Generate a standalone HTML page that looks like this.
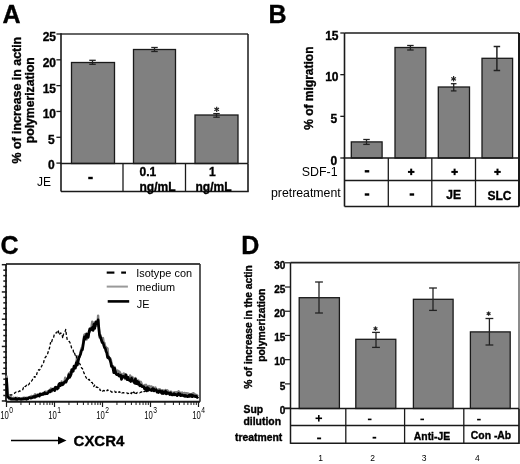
<!DOCTYPE html>
<html><head><meta charset="utf-8"><style>
html,body{margin:0;padding:0;background:#fff;}
svg{display:block;will-change:transform;}
</style></head><body>
<svg width="520" height="464" viewBox="0 0 520 464">
<rect width="520" height="464" fill="#fff"/>
<text x="2.5" y="23" font-size="25" font-family="Liberation Sans, sans-serif" font-weight="bold" stroke="#000" stroke-width="0.35" text-anchor="start" >A</text>
<rect x="71.5" y="62.5" width="43.0" height="101.0" fill="#808080" stroke="#1a1a1a" stroke-width="1.3"/>
<rect x="133.5" y="49.5" width="42.0" height="114.0" fill="#808080" stroke="#1a1a1a" stroke-width="1.3"/>
<rect x="195" y="115" width="43" height="48.5" fill="#808080" stroke="#1a1a1a" stroke-width="1.3"/>
<line x1="92.5" y1="60.3" x2="92.5" y2="64.3" stroke="#222" stroke-width="1.3" />
<line x1="89.25" y1="60.3" x2="95.75" y2="60.3" stroke="#222" stroke-width="1.3" />
<line x1="89.25" y1="64.3" x2="95.75" y2="64.3" stroke="#222" stroke-width="1.3" />
<line x1="154.5" y1="47.5" x2="154.5" y2="51.5" stroke="#222" stroke-width="1.3" />
<line x1="151.25" y1="47.5" x2="157.75" y2="47.5" stroke="#222" stroke-width="1.3" />
<line x1="151.25" y1="51.5" x2="157.75" y2="51.5" stroke="#222" stroke-width="1.3" />
<line x1="216.5" y1="113.6" x2="216.5" y2="117.2" stroke="#222" stroke-width="1.3" />
<line x1="213.25" y1="113.6" x2="219.75" y2="113.6" stroke="#222" stroke-width="1.3" />
<line x1="213.25" y1="117.2" x2="219.75" y2="117.2" stroke="#222" stroke-width="1.3" />
<line x1="216.7" y1="106.7" x2="216.7" y2="112.1" stroke="#222" stroke-width="1.2" />
<line x1="214.36" y1="108.05" x2="219.04" y2="110.75" stroke="#222" stroke-width="1.2" />
<line x1="214.36" y1="110.75" x2="219.04" y2="108.05" stroke="#222" stroke-width="1.2" />
<line x1="61" y1="34" x2="248" y2="34" stroke="#333" stroke-width="1.5" />
<line x1="248" y1="34" x2="248" y2="163.5" stroke="#1a1a1a" stroke-width="1.5" />
<line x1="61" y1="33.3" x2="61" y2="191.5" stroke="#1a1a1a" stroke-width="1.6" />
<line x1="60.2" y1="163.5" x2="248" y2="163.5" stroke="#1a1a1a" stroke-width="1.6" />
<line x1="56.4" y1="163.1" x2="61" y2="163.1" stroke="#1a1a1a" stroke-width="1.3" />
<text x="54.6" y="169.2" font-size="12" font-family="Liberation Sans, sans-serif" font-weight="bold" stroke="#000" stroke-width="0.35" text-anchor="end" >0</text>
<line x1="56.4" y1="137.28" x2="61" y2="137.28" stroke="#1a1a1a" stroke-width="1.3" />
<text x="54.6" y="143.5" font-size="12" font-family="Liberation Sans, sans-serif" font-weight="bold" stroke="#000" stroke-width="0.35" text-anchor="end" >5</text>
<line x1="56.4" y1="111.46" x2="61" y2="111.46" stroke="#1a1a1a" stroke-width="1.3" />
<text x="56" y="118.2" font-size="12" font-family="Liberation Sans, sans-serif" font-weight="bold" stroke="#000" stroke-width="0.35" text-anchor="end" >10</text>
<line x1="56.4" y1="85.64" x2="61" y2="85.64" stroke="#1a1a1a" stroke-width="1.3" />
<text x="56" y="92.6" font-size="12" font-family="Liberation Sans, sans-serif" font-weight="bold" stroke="#000" stroke-width="0.35" text-anchor="end" >15</text>
<line x1="56.4" y1="59.81999999999999" x2="61" y2="59.81999999999999" stroke="#1a1a1a" stroke-width="1.3" />
<text x="56" y="66.9" font-size="12" font-family="Liberation Sans, sans-serif" font-weight="bold" stroke="#000" stroke-width="0.35" text-anchor="end" >20</text>
<line x1="56.4" y1="34.0" x2="61" y2="34.0" stroke="#1a1a1a" stroke-width="1.3" />
<text x="56" y="41.2" font-size="12" font-family="Liberation Sans, sans-serif" font-weight="bold" stroke="#000" stroke-width="0.35" text-anchor="end" >25</text>
<line x1="61" y1="191.5" x2="248.7" y2="191.5" stroke="#1a1a1a" stroke-width="1.6" />
<line x1="123" y1="163.5" x2="123" y2="191.5" stroke="#1a1a1a" stroke-width="1.3" />
<line x1="185.5" y1="163.5" x2="185.5" y2="191.5" stroke="#1a1a1a" stroke-width="1.3" />
<line x1="248" y1="163.5" x2="248" y2="191.5" stroke="#1a1a1a" stroke-width="1.6" />
<text x="37" y="186.3" font-size="12" font-family="Liberation Sans, sans-serif" text-anchor="start" >JE</text>
<rect x="88.25" y="176.80" width="4.5" height="2.4" fill="#000"/>
<text x="139.5" y="176.3" font-size="12" font-family="Liberation Sans, sans-serif" font-weight="bold" stroke="#000" stroke-width="0.35" text-anchor="start" >0.1</text>
<text x="139.5" y="190.5" font-size="12" font-family="Liberation Sans, sans-serif" font-weight="bold" stroke="#000" stroke-width="0.35" text-anchor="start" >ng/mL</text>
<text x="212.3" y="176.3" font-size="12" font-family="Liberation Sans, sans-serif" font-weight="bold" stroke="#000" stroke-width="0.35" text-anchor="middle" >1</text>
<text x="195.5" y="190.5" font-size="12" font-family="Liberation Sans, sans-serif" font-weight="bold" stroke="#000" stroke-width="0.35" text-anchor="start" >ng/mL</text>
<text transform="translate(20.7,100.2) rotate(-90)" font-size="12.4" font-family="Liberation Sans, sans-serif" font-weight="bold" stroke="#000" stroke-width="0.35" text-anchor="middle">% of increase in actin</text>
<text transform="translate(34,100.2) rotate(-90)" font-size="12.2" font-family="Liberation Sans, sans-serif" font-weight="bold" stroke="#000" stroke-width="0.35" text-anchor="middle">polymerization</text>
<text x="268.4" y="23" font-size="25" font-family="Liberation Sans, sans-serif" font-weight="bold" stroke="#000" stroke-width="0.35" text-anchor="start" >B</text>
<rect x="351.3" y="141.9" width="30.80000000000001" height="16.099999999999994" fill="#808080" stroke="#1a1a1a" stroke-width="1.3"/>
<rect x="395" y="47.5" width="30.80000000000001" height="110.5" fill="#808080" stroke="#1a1a1a" stroke-width="1.3"/>
<rect x="438.3" y="87" width="31.19999999999999" height="71" fill="#808080" stroke="#1a1a1a" stroke-width="1.3"/>
<rect x="482" y="58.3" width="30.600000000000023" height="99.7" fill="#808080" stroke="#1a1a1a" stroke-width="1.3"/>
<line x1="366.5" y1="139.5" x2="366.5" y2="144.4" stroke="#222" stroke-width="1.3" />
<line x1="363.25" y1="139.5" x2="369.75" y2="139.5" stroke="#222" stroke-width="1.3" />
<line x1="363.25" y1="144.4" x2="369.75" y2="144.4" stroke="#222" stroke-width="1.3" />
<line x1="410.4" y1="45.5" x2="410.4" y2="50" stroke="#222" stroke-width="1.3" />
<line x1="407.15" y1="45.5" x2="413.65" y2="45.5" stroke="#222" stroke-width="1.3" />
<line x1="407.15" y1="50" x2="413.65" y2="50" stroke="#222" stroke-width="1.3" />
<line x1="453.7" y1="83.7" x2="453.7" y2="90.9" stroke="#222" stroke-width="1.3" />
<line x1="450.9" y1="83.7" x2="456.5" y2="83.7" stroke="#222" stroke-width="1.3" />
<line x1="450.9" y1="90.9" x2="456.5" y2="90.9" stroke="#222" stroke-width="1.3" />
<line x1="453.6" y1="76.1" x2="453.6" y2="81.5" stroke="#222" stroke-width="1.2" />
<line x1="451.26" y1="77.45" x2="455.94" y2="80.15" stroke="#222" stroke-width="1.2" />
<line x1="451.26" y1="80.15" x2="455.94" y2="77.45" stroke="#222" stroke-width="1.2" />
<line x1="496.9" y1="46.5" x2="496.9" y2="70.5" stroke="#222" stroke-width="1.5" />
<line x1="493.65" y1="46.5" x2="500.15" y2="46.5" stroke="#222" stroke-width="1.5" />
<line x1="493.65" y1="70.5" x2="500.15" y2="70.5" stroke="#222" stroke-width="1.5" />
<line x1="344.5" y1="33" x2="519" y2="33" stroke="#555" stroke-width="1.8" />
<line x1="519" y1="33" x2="519" y2="206.5" stroke="#000" stroke-width="1.8" />
<line x1="344.5" y1="33" x2="344.5" y2="206.5" stroke="#1a1a1a" stroke-width="1.6" />
<line x1="343.5" y1="158" x2="519" y2="158" stroke="#1a1a1a" stroke-width="1.6" />
<line x1="340.3" y1="158.0" x2="344.5" y2="158.0" stroke="#1a1a1a" stroke-width="1.3" />
<text x="337.1" y="164.6" font-size="12" font-family="Liberation Sans, sans-serif" font-weight="bold" stroke="#000" stroke-width="0.35" text-anchor="end" >0</text>
<line x1="340.3" y1="116.33333333333333" x2="344.5" y2="116.33333333333333" stroke="#1a1a1a" stroke-width="1.3" />
<text x="337.1" y="122.93333333333332" font-size="12" font-family="Liberation Sans, sans-serif" font-weight="bold" stroke="#000" stroke-width="0.35" text-anchor="end" >5</text>
<line x1="340.3" y1="74.66666666666666" x2="344.5" y2="74.66666666666666" stroke="#1a1a1a" stroke-width="1.3" />
<text x="338.5" y="81.26666666666665" font-size="12" font-family="Liberation Sans, sans-serif" font-weight="bold" stroke="#000" stroke-width="0.35" text-anchor="end" >10</text>
<line x1="340.3" y1="32.999999999999986" x2="344.5" y2="32.999999999999986" stroke="#1a1a1a" stroke-width="1.3" />
<text x="338.5" y="39.59999999999999" font-size="12" font-family="Liberation Sans, sans-serif" font-weight="bold" stroke="#000" stroke-width="0.35" text-anchor="end" >15</text>
<line x1="344.5" y1="180.5" x2="519" y2="180.5" stroke="#1a1a1a" stroke-width="1.3" />
<line x1="344.5" y1="206.5" x2="519" y2="206.5" stroke="#1a1a1a" stroke-width="1.6" />
<line x1="388.3" y1="158" x2="388.3" y2="206.5" stroke="#1a1a1a" stroke-width="1.3" />
<line x1="431.8" y1="158" x2="431.8" y2="206.5" stroke="#1a1a1a" stroke-width="1.3" />
<line x1="475.5" y1="158" x2="475.5" y2="206.5" stroke="#1a1a1a" stroke-width="1.3" />
<text x="337.6" y="176.3" font-size="12.4" font-family="Liberation Sans, sans-serif" text-anchor="end" >SDF-1</text>
<text x="340.7" y="197.3" font-size="12.3" font-family="Liberation Sans, sans-serif" text-anchor="end" >pretreatment</text>
<rect x="364.75" y="170.10" width="4.5" height="2.4" fill="#000"/>
<rect x="364.75" y="193.30" width="4.5" height="2.4" fill="#000"/>
<rect x="407.95" y="170.90" width="6.5" height="2" fill="#000"/>
<rect x="410.20" y="168.65" width="2" height="6.5" fill="#000"/>
<rect x="451.35" y="170.90" width="6.5" height="2" fill="#000"/>
<rect x="453.60" y="168.65" width="2" height="6.5" fill="#000"/>
<rect x="494.25" y="170.90" width="6.5" height="2" fill="#000"/>
<rect x="496.50" y="168.65" width="2" height="6.5" fill="#000"/>
<rect x="409.65" y="193.30" width="4.5" height="2.4" fill="#000"/>
<text x="453.7" y="198.8" font-size="12" font-family="Liberation Sans, sans-serif" font-weight="bold" stroke="#000" stroke-width="0.35" text-anchor="middle" >JE</text>
<text x="499.4" y="200" font-size="12" font-family="Liberation Sans, sans-serif" font-weight="bold" stroke="#000" stroke-width="0.35" text-anchor="middle" >SLC</text>
<text transform="translate(313.2,88.2) rotate(-90)" font-size="12" font-family="Liberation Sans, sans-serif" font-weight="bold" stroke="#000" stroke-width="0.35" text-anchor="middle">% of migration</text>
<text x="0.5" y="254" font-size="25" font-family="Liberation Sans, sans-serif" font-weight="bold" stroke="#000" stroke-width="0.35" text-anchor="start" >C</text>
<line x1="6" y1="264" x2="200" y2="264" stroke="#444" stroke-width="1.8" />
<line x1="200" y1="264" x2="200" y2="401.8" stroke="#333" stroke-width="1.6" />
<line x1="6" y1="264" x2="6" y2="401.8" stroke="#1a1a1a" stroke-width="1.8" />
<line x1="6" y1="401.8" x2="200" y2="401.8" stroke="#1a1a1a" stroke-width="2" />
<line x1="1.8" y1="264.7" x2="7" y2="264.7" stroke="#1a1a1a" stroke-width="1.5" />
<line x1="3.3" y1="270.15" x2="7" y2="270.15" stroke="#1a1a1a" stroke-width="1.5" />
<line x1="3.3" y1="275.59999999999997" x2="7" y2="275.59999999999997" stroke="#1a1a1a" stroke-width="1.5" />
<line x1="3.3" y1="281.04999999999995" x2="7" y2="281.04999999999995" stroke="#1a1a1a" stroke-width="1.5" />
<line x1="3.3" y1="286.49999999999994" x2="7" y2="286.49999999999994" stroke="#1a1a1a" stroke-width="1.5" />
<line x1="1.8" y1="291.94999999999993" x2="7" y2="291.94999999999993" stroke="#1a1a1a" stroke-width="1.5" />
<line x1="3.3" y1="297.3999999999999" x2="7" y2="297.3999999999999" stroke="#1a1a1a" stroke-width="1.5" />
<line x1="3.3" y1="302.8499999999999" x2="7" y2="302.8499999999999" stroke="#1a1a1a" stroke-width="1.5" />
<line x1="3.3" y1="308.2999999999999" x2="7" y2="308.2999999999999" stroke="#1a1a1a" stroke-width="1.5" />
<line x1="3.3" y1="313.7499999999999" x2="7" y2="313.7499999999999" stroke="#1a1a1a" stroke-width="1.5" />
<line x1="1.8" y1="319.1999999999999" x2="7" y2="319.1999999999999" stroke="#1a1a1a" stroke-width="1.5" />
<line x1="3.3" y1="324.64999999999986" x2="7" y2="324.64999999999986" stroke="#1a1a1a" stroke-width="1.5" />
<line x1="3.3" y1="330.09999999999985" x2="7" y2="330.09999999999985" stroke="#1a1a1a" stroke-width="1.5" />
<line x1="3.3" y1="335.54999999999984" x2="7" y2="335.54999999999984" stroke="#1a1a1a" stroke-width="1.5" />
<line x1="3.3" y1="340.99999999999983" x2="7" y2="340.99999999999983" stroke="#1a1a1a" stroke-width="1.5" />
<line x1="1.8" y1="346.4499999999998" x2="7" y2="346.4499999999998" stroke="#1a1a1a" stroke-width="1.5" />
<line x1="3.3" y1="351.8999999999998" x2="7" y2="351.8999999999998" stroke="#1a1a1a" stroke-width="1.5" />
<line x1="3.3" y1="357.3499999999998" x2="7" y2="357.3499999999998" stroke="#1a1a1a" stroke-width="1.5" />
<line x1="3.3" y1="362.7999999999998" x2="7" y2="362.7999999999998" stroke="#1a1a1a" stroke-width="1.5" />
<line x1="3.3" y1="368.2499999999998" x2="7" y2="368.2499999999998" stroke="#1a1a1a" stroke-width="1.5" />
<line x1="1.8" y1="373.69999999999976" x2="7" y2="373.69999999999976" stroke="#1a1a1a" stroke-width="1.5" />
<line x1="3.3" y1="379.14999999999975" x2="7" y2="379.14999999999975" stroke="#1a1a1a" stroke-width="1.5" />
<line x1="3.3" y1="384.59999999999974" x2="7" y2="384.59999999999974" stroke="#1a1a1a" stroke-width="1.5" />
<line x1="3.3" y1="390.0499999999997" x2="7" y2="390.0499999999997" stroke="#1a1a1a" stroke-width="1.5" />
<line x1="3.3" y1="395.4999999999997" x2="7" y2="395.4999999999997" stroke="#1a1a1a" stroke-width="1.5" />
<line x1="1.8" y1="400.9499999999997" x2="7" y2="400.9499999999997" stroke="#1a1a1a" stroke-width="1.5" />
<line x1="6.5" y1="401.8" x2="6.5" y2="407" stroke="#1a1a1a" stroke-width="1.2" />
<line x1="20.949439791871097" y1="401.8" x2="20.949439791871097" y2="405" stroke="#1a1a1a" stroke-width="1" />
<line x1="29.401820226543798" y1="401.8" x2="29.401820226543798" y2="405" stroke="#1a1a1a" stroke-width="1" />
<line x1="35.39887958374219" y1="401.8" x2="35.39887958374219" y2="405" stroke="#1a1a1a" stroke-width="1" />
<line x1="40.05056020812891" y1="401.8" x2="40.05056020812891" y2="405" stroke="#1a1a1a" stroke-width="1" />
<line x1="43.85126001841489" y1="401.8" x2="43.85126001841489" y2="405" stroke="#1a1a1a" stroke-width="1" />
<line x1="47.064705920684325" y1="401.8" x2="47.064705920684325" y2="405" stroke="#1a1a1a" stroke-width="1" />
<line x1="49.848319375613286" y1="401.8" x2="49.848319375613286" y2="405" stroke="#1a1a1a" stroke-width="1" />
<line x1="52.303640453087596" y1="401.8" x2="52.303640453087596" y2="405" stroke="#1a1a1a" stroke-width="1" />
<line x1="54.5" y1="401.8" x2="54.5" y2="407" stroke="#1a1a1a" stroke-width="1.2" />
<line x1="68.9494397918711" y1="401.8" x2="68.9494397918711" y2="405" stroke="#1a1a1a" stroke-width="1" />
<line x1="77.4018202265438" y1="401.8" x2="77.4018202265438" y2="405" stroke="#1a1a1a" stroke-width="1" />
<line x1="83.3988795837422" y1="401.8" x2="83.3988795837422" y2="405" stroke="#1a1a1a" stroke-width="1" />
<line x1="88.0505602081289" y1="401.8" x2="88.0505602081289" y2="405" stroke="#1a1a1a" stroke-width="1" />
<line x1="91.85126001841489" y1="401.8" x2="91.85126001841489" y2="405" stroke="#1a1a1a" stroke-width="1" />
<line x1="95.06470592068433" y1="401.8" x2="95.06470592068433" y2="405" stroke="#1a1a1a" stroke-width="1" />
<line x1="97.84831937561329" y1="401.8" x2="97.84831937561329" y2="405" stroke="#1a1a1a" stroke-width="1" />
<line x1="100.3036404530876" y1="401.8" x2="100.3036404530876" y2="405" stroke="#1a1a1a" stroke-width="1" />
<line x1="102.5" y1="401.8" x2="102.5" y2="407" stroke="#1a1a1a" stroke-width="1.2" />
<line x1="116.9494397918711" y1="401.8" x2="116.9494397918711" y2="405" stroke="#1a1a1a" stroke-width="1" />
<line x1="125.4018202265438" y1="401.8" x2="125.4018202265438" y2="405" stroke="#1a1a1a" stroke-width="1" />
<line x1="131.3988795837422" y1="401.8" x2="131.3988795837422" y2="405" stroke="#1a1a1a" stroke-width="1" />
<line x1="136.0505602081289" y1="401.8" x2="136.0505602081289" y2="405" stroke="#1a1a1a" stroke-width="1" />
<line x1="139.8512600184149" y1="401.8" x2="139.8512600184149" y2="405" stroke="#1a1a1a" stroke-width="1" />
<line x1="143.06470592068433" y1="401.8" x2="143.06470592068433" y2="405" stroke="#1a1a1a" stroke-width="1" />
<line x1="145.8483193756133" y1="401.8" x2="145.8483193756133" y2="405" stroke="#1a1a1a" stroke-width="1" />
<line x1="148.3036404530876" y1="401.8" x2="148.3036404530876" y2="405" stroke="#1a1a1a" stroke-width="1" />
<line x1="150.5" y1="401.8" x2="150.5" y2="407" stroke="#1a1a1a" stroke-width="1.2" />
<line x1="164.9494397918711" y1="401.8" x2="164.9494397918711" y2="405" stroke="#1a1a1a" stroke-width="1" />
<line x1="173.4018202265438" y1="401.8" x2="173.4018202265438" y2="405" stroke="#1a1a1a" stroke-width="1" />
<line x1="179.3988795837422" y1="401.8" x2="179.3988795837422" y2="405" stroke="#1a1a1a" stroke-width="1" />
<line x1="184.0505602081289" y1="401.8" x2="184.0505602081289" y2="405" stroke="#1a1a1a" stroke-width="1" />
<line x1="187.8512600184149" y1="401.8" x2="187.8512600184149" y2="405" stroke="#1a1a1a" stroke-width="1" />
<line x1="191.06470592068433" y1="401.8" x2="191.06470592068433" y2="405" stroke="#1a1a1a" stroke-width="1" />
<line x1="193.8483193756133" y1="401.8" x2="193.8483193756133" y2="405" stroke="#1a1a1a" stroke-width="1" />
<line x1="196.3036404530876" y1="401.8" x2="196.3036404530876" y2="405" stroke="#1a1a1a" stroke-width="1" />
<line x1="198.5" y1="401.8" x2="198.5" y2="407" stroke="#1a1a1a" stroke-width="1.2" />
<text transform="translate(0.20000000000000018,418.7) scale(0.7,1)" font-size="11" font-family="Liberation Sans, sans-serif">10</text>
<text transform="translate(11.0,413) scale(0.75,1)" font-size="9" font-family="Liberation Sans, sans-serif" text-anchor="middle">0</text>
<text transform="translate(48.2,418.7) scale(0.7,1)" font-size="11" font-family="Liberation Sans, sans-serif">10</text>
<text transform="translate(59.0,413) scale(0.75,1)" font-size="9" font-family="Liberation Sans, sans-serif" text-anchor="middle">1</text>
<text transform="translate(96.2,418.7) scale(0.7,1)" font-size="11" font-family="Liberation Sans, sans-serif">10</text>
<text transform="translate(107.0,413) scale(0.75,1)" font-size="9" font-family="Liberation Sans, sans-serif" text-anchor="middle">2</text>
<text transform="translate(144.2,418.7) scale(0.7,1)" font-size="11" font-family="Liberation Sans, sans-serif">10</text>
<text transform="translate(155.0,413) scale(0.75,1)" font-size="9" font-family="Liberation Sans, sans-serif" text-anchor="middle">3</text>
<text transform="translate(192.2,418.7) scale(0.7,1)" font-size="11" font-family="Liberation Sans, sans-serif">10</text>
<text transform="translate(203.0,413) scale(0.75,1)" font-size="9" font-family="Liberation Sans, sans-serif" text-anchor="middle">4</text>
<line x1="106.7" y1="272.6" x2="114.4" y2="272.6" stroke="#000" stroke-width="2.2" />
<line x1="121.2" y1="272.6" x2="126" y2="272.6" stroke="#000" stroke-width="2.2" />
<line x1="106.7" y1="286.6" x2="127.9" y2="286.6" stroke="#999" stroke-width="2" />
<line x1="107.7" y1="301.4" x2="129.2" y2="301.4" stroke="#000" stroke-width="2.6" />
<text x="136.3" y="277" font-size="10.9" font-family="Liberation Sans, sans-serif" text-anchor="start" >Isotype con</text>
<text x="136.3" y="290.5" font-size="10.9" font-family="Liberation Sans, sans-serif" text-anchor="start" >medium</text>
<text x="136.8" y="307.8" font-size="10.9" font-family="Liberation Sans, sans-serif" text-anchor="start" >JE</text>
<polyline points="6.5,375.6 7.5,394.4 8.2,396.9 9.0,396.5 9.7,397.7 10.5,396.6 11.2,398.5 11.9,398.0 12.7,398.7 13.4,397.8 14.1,398.3 14.9,398.0 15.6,397.9 16.3,398.4 17.1,397.7 17.8,398.2 18.5,398.8 19.3,398.6 20.0,398.4 20.7,399.6 21.4,398.4 22.2,398.0 22.9,398.3 23.6,397.8 24.3,397.8 25.0,397.7 25.8,398.8 26.5,397.7 27.2,397.6 27.9,397.8 28.6,398.5 29.3,397.1 30.1,396.8 30.8,398.5 31.5,396.0 32.2,396.5 32.9,396.9 33.7,397.7 34.4,395.4 35.1,394.2 35.8,396.0 36.5,395.0 37.2,394.9 38.0,395.3 38.7,394.9 39.4,394.7 40.1,394.0 40.8,395.0 41.6,395.0 42.3,393.6 43.0,393.1 43.7,393.7 44.5,393.2 45.2,391.7 45.9,391.9 46.6,392.8 47.4,391.6 48.1,391.1 48.8,391.3 49.5,390.8 50.2,390.5 51.0,388.5 51.7,391.6 52.4,389.8 53.2,388.6 53.9,390.0 54.6,389.1 55.3,388.3 56.0,388.8 56.7,389.5 57.4,387.3 58.1,387.8 58.8,387.9 59.6,384.0 60.3,384.0 61.0,384.9 61.7,381.5 62.4,382.7 63.1,383.9 63.8,383.1 64.5,381.7 65.2,377.8 66.0,382.3 66.7,379.2 67.4,378.6 68.1,377.4 68.9,373.5 69.6,373.0 70.3,372.1 71.0,375.4 71.8,370.3 72.5,370.0 73.2,368.8 74.0,368.9 74.7,367.7 75.4,366.1 76.4,361.6 77.4,356.4 78.2,359.6 79.0,357.3 79.8,356.7 80.6,351.8 81.5,348.3 82.4,347.7 83.3,341.3 84.4,334.7 85.2,334.1 86.0,336.3 86.7,339.6 87.5,336.0 88.2,336.1 89.0,332.8 89.8,331.5 90.6,328.5 91.4,327.6 92.2,321.8 93.1,323.8 93.9,322.8 94.7,327.0 95.8,325.5 96.8,325.5 97.6,325.4 98.1,315.6 98.6,325.7 99.5,337.5 100.5,335.2 101.5,340.5 102.2,339.5 103.0,338.1 103.8,343.3 104.5,343.1 105.2,346.6 106.0,347.1 106.8,350.8 107.6,348.3 108.4,358.3 109.2,359.1 110.0,358.2 110.8,359.5 111.5,363.2 112.3,366.0 113.1,367.3 113.8,368.9 114.6,367.0 115.4,370.0 116.2,374.0 116.9,372.7 117.7,370.6 118.4,371.9 119.2,371.4 120.0,372.4 120.7,375.8 121.5,374.2 122.2,376.4 123.0,375.5 123.7,373.4 124.4,374.8 125.1,379.1 125.8,375.2 126.5,375.0 127.3,378.4 128.0,377.1 128.7,377.2 129.4,379.5 130.1,375.4 130.8,378.6 131.6,377.0 132.3,377.0 133.1,378.1 133.9,381.0 134.7,379.8 135.4,378.0 136.2,379.3 137.0,383.0 137.7,382.8 138.5,380.6 139.2,385.3 140.0,382.4 140.8,381.8 141.5,383.5 142.2,385.2 143.0,386.4 143.8,386.2 144.5,385.0 145.2,385.3 146.0,384.8 146.7,386.5 147.5,386.2 148.2,387.2 148.9,385.9 149.7,386.8 150.4,386.7 151.1,386.5 151.8,386.7 152.6,387.1 153.3,387.2 154.0,389.1 154.8,388.8 155.5,387.6 156.2,389.6 157.0,389.6 157.7,390.9 158.4,389.4 159.1,389.6 159.8,389.2 160.5,390.1 161.2,390.6 161.9,390.4 162.6,390.1 163.3,391.0 164.1,390.7 164.8,391.0 165.5,390.0 166.2,391.2 166.9,390.2 167.6,390.5 168.3,391.5 169.0,393.3 169.7,392.5 170.5,391.7 171.2,391.7 171.9,392.8 172.7,393.3 173.4,393.2 174.2,392.2 174.9,392.6 175.6,392.3 176.4,392.5 177.1,392.1 177.9,392.7 178.6,391.3 179.3,392.2 180.1,393.6 180.8,392.7 181.5,393.9 182.2,392.5 183.0,393.3 183.7,393.9 184.4,392.9 185.1,393.2 185.8,395.7 186.5,393.3 187.2,393.3 188.0,393.5 188.7,394.0 189.4,394.0 190.1,394.8 190.8,394.8 191.6,393.9 192.3,394.0 193.0,393.3 193.7,393.3 194.4,393.9 195.1,395.0 195.8,394.6 196.6,395.2 197.3,395.3 198.0,394.6" fill="none" stroke="#808080" stroke-width="2.4" stroke-linejoin="round" />
<polyline points="6.5,377.7 7.5,396.3 8.2,397.1 9.0,398.4 9.7,398.1 10.5,398.5 11.2,399.2 11.9,398.9 12.7,399.2 13.4,399.0 14.1,399.1 14.9,399.1 15.6,398.3 16.3,399.5 17.1,399.4 17.8,399.4 18.5,398.6 19.3,398.7 20.0,399.1 20.7,399.1 21.4,399.3 22.2,399.1 22.9,399.2 23.6,398.6 24.3,398.9 25.0,398.8 25.8,398.3 26.5,399.2 27.2,398.6 27.9,398.8 28.6,397.8 29.3,397.7 30.1,397.7 30.8,397.8 31.5,398.0 32.2,397.6 32.9,397.0 33.7,396.5 34.4,396.5 35.1,397.3 35.8,395.9 36.5,396.3 37.2,396.2 38.0,394.8 38.7,395.5 39.4,396.1 40.1,393.8 40.8,394.6 41.6,394.6 42.3,393.9 43.0,394.5 43.7,393.9 44.5,392.6 45.2,393.9 45.9,393.5 46.6,393.5 47.4,393.6 48.1,392.5 48.8,392.0 49.5,390.6 50.2,391.8 51.0,390.5 51.7,390.4 52.4,389.4 53.2,389.4 53.9,389.4 54.6,390.7 55.3,387.3 56.0,387.2 56.7,388.2 57.4,388.8 58.1,387.5 58.8,384.6 59.6,383.4 60.3,385.7 61.0,384.1 61.7,383.1 62.4,384.8 63.1,384.4 63.8,382.9 64.5,382.1 65.2,381.5 66.0,382.0 66.7,380.0 67.4,379.0 68.1,378.2 68.9,374.7 69.6,377.4 70.3,375.9 71.0,374.2 71.8,369.6 72.5,370.3 73.2,371.2 74.0,366.2 74.7,367.4 75.4,368.0 76.4,362.5 77.4,365.0 78.2,361.0 79.0,357.4 79.8,355.8 80.6,353.9 81.5,350.5 82.4,349.8 83.3,344.0 84.4,336.9 85.2,339.2 86.0,336.6 86.7,334.0 87.5,337.0 88.2,337.4 89.0,332.1 89.8,328.8 90.6,330.1 91.4,328.7 92.2,327.6 93.1,330.4 93.9,324.4 94.7,328.5 95.8,321.9 96.8,321.9 97.6,323.9 98.1,319.8 98.6,325.9 99.5,334.7 100.5,337.3 101.5,340.3 102.2,342.7 103.0,342.9 103.8,345.4 104.5,347.6 105.2,348.2 106.0,351.2 106.8,353.0 107.6,357.6 108.4,356.8 109.2,357.8 110.0,360.0 110.8,362.8 111.5,366.4 112.3,366.2 113.1,369.0 113.8,372.7 114.6,368.3 115.4,372.0 116.2,374.2 116.9,374.7 117.7,374.9 118.4,374.3 119.2,376.1 120.0,376.0 120.7,375.3 121.5,379.4 122.2,377.1 123.0,376.3 123.7,377.1 124.4,377.2 125.1,377.7 125.8,374.7 126.5,377.7 127.3,379.7 128.0,377.4 128.7,379.0 129.4,380.4 130.1,380.6 130.8,381.5 131.6,378.2 132.3,380.2 133.1,380.6 133.9,382.1 134.7,383.0 135.4,379.2 136.2,383.7 137.0,381.3 137.7,384.0 138.5,382.1 139.2,384.3 140.0,385.8 140.8,384.9 141.5,385.7 142.2,386.7 143.0,386.5 143.8,386.8 144.5,388.8 145.2,388.7 146.0,387.9 146.7,390.9 147.5,387.5 148.2,389.6 148.9,388.7 149.7,389.3 150.4,390.0 151.1,389.8 151.8,390.3 152.6,388.6 153.3,388.8 154.0,390.9 154.8,389.7 155.5,389.9 156.2,389.7 157.0,392.1 157.7,391.9 158.4,392.6 159.1,390.8 159.8,391.7 160.5,390.9 161.2,392.5 161.9,393.3 162.6,391.5 163.3,393.5 164.1,393.2 164.8,392.4 165.5,391.2 166.2,393.9 166.9,392.9 167.6,392.6 168.3,393.5 169.0,393.6 169.7,394.5 170.5,392.8 171.2,394.5 171.9,394.8 172.7,394.9 173.4,393.9 174.2,393.6 174.9,394.9 175.6,394.4 176.4,394.6 177.1,395.6 177.9,394.5 178.6,393.3 179.3,394.7 180.1,393.9 180.8,395.7 181.5,395.5 182.2,394.9 183.0,395.4 183.7,395.9 184.4,395.5 185.1,396.4 185.8,395.5 186.5,396.3 187.2,396.6 188.0,396.7 188.7,395.4 189.4,396.4 190.1,394.8 190.8,395.3 191.6,394.8 192.3,396.7 193.0,395.4 193.7,396.2 194.4,396.1 195.1,396.3 195.8,396.0 196.6,396.5 197.3,397.5 198.0,396.5" fill="none" stroke="#000" stroke-width="2.7" stroke-linejoin="round" />
<polyline points="9.5,394.6 10.3,394.8 11.1,395.0 11.9,394.9 12.6,394.4 13.4,393.6 14.2,393.4 15.0,392.9 15.8,392.1 16.6,392.2 17.3,392.7 18.1,392.0 18.9,391.5 19.6,390.8 20.4,391.0 21.2,390.5 22.0,390.2 22.7,389.8 23.5,387.5 24.2,388.1 25.0,386.6 25.8,386.2 26.5,385.3 27.3,386.2 28.1,385.2 28.9,384.4 29.6,382.9 30.4,381.7 31.2,381.3 31.9,380.6 32.7,379.2 33.5,378.7 34.2,376.7 35.0,377.3 35.7,375.3 36.4,375.4 37.1,372.8 37.9,371.3 38.6,369.7 39.3,370.2 40.0,369.3 40.7,367.4 41.5,366.6 42.2,364.9 42.9,363.6 43.6,362.7 44.4,358.8 45.2,357.5 46.1,356.5 46.9,354.4 47.6,353.8 48.3,351.5 49.0,349.5 49.7,347.3 50.5,342.6 51.2,343.7 52.2,339.8 53.3,338.8 54.4,334.0 55.2,333.5 56.0,332.9 56.8,332.8 57.6,330.1 58.3,330.8 59.1,334.9 59.8,334.0 60.5,333.0 61.3,333.3 62.0,333.5 62.7,338.2 63.5,334.2 64.2,333.3 65.0,332.1 65.7,329.5 66.5,335.7 67.3,340.0 68.0,340.8 68.8,341.4 69.5,341.7 70.5,343.7 71.6,348.0 72.3,348.8 73.1,349.4 73.8,354.1 74.6,353.3 75.4,355.9 76.1,354.9 76.9,360.5 77.6,359.5 78.4,361.4 79.2,363.5 80.0,364.1 80.8,365.8 81.6,368.1 82.4,368.4 83.2,370.9 84.0,373.1 84.8,374.4 85.7,376.7 86.5,378.2 87.2,379.4 87.9,379.0 88.6,379.8 89.3,379.4 90.0,380.9 90.8,381.2 91.5,382.4 92.2,382.5 93.0,384.2 93.8,386.5 94.5,385.0 95.2,386.6 96.0,387.4 96.7,386.8 97.4,387.4 98.1,387.6 98.8,388.5 99.5,388.2 100.2,390.5 100.9,389.7 101.6,390.2 102.3,391.1 103.0,391.0 103.7,390.4 104.4,390.8 105.2,390.7 105.9,390.9 106.6,391.4 107.3,389.9 108.1,390.2 108.8,391.0 109.5,391.5 110.3,391.1 111.0,391.4 111.7,392.2 112.5,392.0 113.2,391.7 113.9,391.7 114.6,391.2 115.4,392.3 116.1,392.2 116.8,391.7 117.5,392.6 118.3,392.2 119.0,392.3 119.7,391.7 120.5,393.1 121.2,392.3 121.9,392.9 122.7,392.9 123.4,392.6 124.1,392.9 124.9,392.9 125.6,392.9 126.3,393.2 127.1,392.9 127.8,393.6 128.5,393.4 129.3,392.8 130.0,393.7 130.7,393.2 131.5,393.6 132.2,392.1 132.9,393.4 133.7,392.0 134.4,392.8 135.1,394.6 135.9,393.2 136.6,393.4 137.3,392.4 138.1,392.2 138.8,392.6 139.5,392.8 140.3,392.5 141.0,392.1 141.8,391.8 142.5,391.8 143.2,392.6 144.0,391.6 144.8,391.1 145.5,391.0 146.2,390.4 147.0,389.9 147.8,390.5 148.5,391.0 149.2,390.3 150.0,389.0 150.7,390.8 151.4,390.2 152.1,391.3 152.9,390.3 153.6,389.7 154.3,390.8 155.0,390.7 155.7,390.3 156.4,390.7 157.1,391.0 157.9,390.9 158.6,391.8 159.3,391.8 160.0,391.5 160.7,391.7 161.4,392.5 162.1,392.4 162.9,391.7 163.6,392.6 164.3,393.5 165.0,392.9 165.7,392.5 166.4,393.8 167.1,394.4 167.9,393.4 168.6,392.4 169.3,393.0 170.0,394.7 170.7,393.9 171.4,394.4 172.1,394.5 172.9,394.5 173.6,395.3 174.3,394.8 175.0,395.1 175.7,395.0 176.4,395.1 177.2,396.1 177.9,394.6 178.6,394.7 179.3,395.7 180.0,394.8 180.8,395.5 181.5,395.0 182.2,395.9 182.9,395.6 183.6,395.9 184.3,395.4 185.1,395.7 185.8,394.9 186.5,396.3 187.2,396.2 187.9,396.1 188.7,396.1 189.4,396.0 190.1,396.2 190.8,397.1 191.5,396.2 192.2,396.3 193.0,396.8 193.7,396.7 194.4,396.4 195.1,397.4 195.8,397.4 196.6,396.8 197.3,397.6 198.0,396.5" fill="none" stroke="#000" stroke-width="1.3" stroke-linejoin="round" stroke-dasharray="3,2"/>
<line x1="11" y1="440.5" x2="59" y2="440.5" stroke="#000" stroke-width="1.3" />
<polygon points="58,436.5 66.5,440.5 58,444.5" fill="#000"/>
<text transform="translate(73.6,445.6) scale(1.025,1)" font-size="14.6" font-family="Liberation Sans, sans-serif" font-weight="bold" stroke="#000" stroke-width="0.35">CXCR4</text>
<text x="241.3" y="254" font-size="25" font-family="Liberation Sans, sans-serif" font-weight="bold" stroke="#000" stroke-width="0.35" text-anchor="start" >D</text>
<rect x="299.2" y="297.7" width="40.19999999999999" height="110.80000000000001" fill="#808080" stroke="#1a1a1a" stroke-width="1.3"/>
<rect x="355.8" y="339.3" width="40.0" height="69.19999999999999" fill="#808080" stroke="#1a1a1a" stroke-width="1.3"/>
<rect x="413.4" y="299.3" width="39.700000000000045" height="109.19999999999999" fill="#808080" stroke="#1a1a1a" stroke-width="1.3"/>
<rect x="470.4" y="331.9" width="39.80000000000001" height="76.60000000000002" fill="#808080" stroke="#1a1a1a" stroke-width="1.3"/>
<line x1="319" y1="282" x2="319" y2="313" stroke="#222" stroke-width="1.3" />
<line x1="315.1" y1="282" x2="322.9" y2="282" stroke="#222" stroke-width="1.3" />
<line x1="315.1" y1="313" x2="322.9" y2="313" stroke="#222" stroke-width="1.3" />
<line x1="376" y1="332.4" x2="376" y2="347.4" stroke="#222" stroke-width="1.3" />
<line x1="372.1" y1="332.4" x2="379.9" y2="332.4" stroke="#222" stroke-width="1.3" />
<line x1="372.1" y1="347.4" x2="379.9" y2="347.4" stroke="#222" stroke-width="1.3" />
<line x1="375.5" y1="326.4" x2="375.5" y2="330.8" stroke="#222" stroke-width="1.2" />
<line x1="373.59" y1="327.5" x2="377.41" y2="329.7" stroke="#222" stroke-width="1.2" />
<line x1="373.59" y1="329.7" x2="377.41" y2="327.5" stroke="#222" stroke-width="1.2" />
<line x1="433" y1="288" x2="433" y2="310.4" stroke="#222" stroke-width="1.3" />
<line x1="429.1" y1="288" x2="436.9" y2="288" stroke="#222" stroke-width="1.3" />
<line x1="429.1" y1="310.4" x2="436.9" y2="310.4" stroke="#222" stroke-width="1.3" />
<line x1="489.4" y1="318.5" x2="489.4" y2="345" stroke="#222" stroke-width="1.3" />
<line x1="485.5" y1="318.5" x2="493.29999999999995" y2="318.5" stroke="#222" stroke-width="1.3" />
<line x1="485.5" y1="345" x2="493.29999999999995" y2="345" stroke="#222" stroke-width="1.3" />
<line x1="488.6" y1="311.4" x2="488.6" y2="315.8" stroke="#222" stroke-width="1.2" />
<line x1="486.69" y1="312.5" x2="490.51" y2="314.7" stroke="#222" stroke-width="1.2" />
<line x1="486.69" y1="314.7" x2="490.51" y2="312.5" stroke="#222" stroke-width="1.2" />
<line x1="290.5" y1="262.6" x2="520" y2="262.6" stroke="#222" stroke-width="1.7" />
<line x1="519" y1="263.40000000000003" x2="519" y2="408.5" stroke="#8c8c8c" stroke-width="2" />
<line x1="519" y1="408.5" x2="519" y2="443.9" stroke="#222" stroke-width="1.8" />
<line x1="290.5" y1="262.6" x2="290.5" y2="443.9" stroke="#1a1a1a" stroke-width="1.5" />
<line x1="284.5" y1="408.5" x2="519" y2="408.5" stroke="#1a1a1a" stroke-width="1.5" />
<line x1="285" y1="408.1" x2="290.5" y2="408.1" stroke="#1a1a1a" stroke-width="1.2" />
<text x="285.3" y="413.8" font-size="10" font-family="Liberation Sans, sans-serif" font-weight="bold" stroke="#000" stroke-width="0.35" text-anchor="end" >0</text>
<line x1="285" y1="383.8833333333334" x2="290.5" y2="383.8833333333334" stroke="#1a1a1a" stroke-width="1.2" />
<text x="285.3" y="389.58333333333337" font-size="10" font-family="Liberation Sans, sans-serif" font-weight="bold" stroke="#000" stroke-width="0.35" text-anchor="end" >5</text>
<line x1="285" y1="359.6666666666667" x2="290.5" y2="359.6666666666667" stroke="#1a1a1a" stroke-width="1.2" />
<text x="285.3" y="365.3666666666667" font-size="10" font-family="Liberation Sans, sans-serif" font-weight="bold" stroke="#000" stroke-width="0.35" text-anchor="end" >10</text>
<line x1="285" y1="335.45000000000005" x2="290.5" y2="335.45000000000005" stroke="#1a1a1a" stroke-width="1.2" />
<text x="285.3" y="341.15000000000003" font-size="10" font-family="Liberation Sans, sans-serif" font-weight="bold" stroke="#000" stroke-width="0.35" text-anchor="end" >15</text>
<line x1="285" y1="311.23333333333335" x2="290.5" y2="311.23333333333335" stroke="#1a1a1a" stroke-width="1.2" />
<text x="285.3" y="316.93333333333334" font-size="10" font-family="Liberation Sans, sans-serif" font-weight="bold" stroke="#000" stroke-width="0.35" text-anchor="end" >20</text>
<line x1="285" y1="287.01666666666665" x2="290.5" y2="287.01666666666665" stroke="#1a1a1a" stroke-width="1.2" />
<text x="285.3" y="292.71666666666664" font-size="10" font-family="Liberation Sans, sans-serif" font-weight="bold" stroke="#000" stroke-width="0.35" text-anchor="end" >25</text>
<line x1="285" y1="262.8" x2="290.5" y2="262.8" stroke="#1a1a1a" stroke-width="1.2" />
<text x="285.3" y="268.5" font-size="10" font-family="Liberation Sans, sans-serif" font-weight="bold" stroke="#000" stroke-width="0.35" text-anchor="end" >30</text>
<line x1="290.5" y1="425.5" x2="519" y2="425.5" stroke="#1a1a1a" stroke-width="1.4" />
<line x1="290.5" y1="443.2" x2="519" y2="443.2" stroke="#1a1a1a" stroke-width="1.5" />
<line x1="345.8" y1="408.5" x2="345.8" y2="443.2" stroke="#1a1a1a" stroke-width="1.3" />
<line x1="404.6" y1="408.5" x2="404.6" y2="443.2" stroke="#1a1a1a" stroke-width="1.3" />
<line x1="463.8" y1="408.5" x2="463.8" y2="443.2" stroke="#1a1a1a" stroke-width="1.3" />
<text x="243.5" y="412.5" font-size="10.4" font-family="Liberation Sans, sans-serif" font-weight="bold" stroke="#000" stroke-width="0.35" text-anchor="start" >Sup</text>
<text x="243.5" y="424.6" font-size="10.4" font-family="Liberation Sans, sans-serif" font-weight="bold" stroke="#000" stroke-width="0.35" text-anchor="start" >dilution</text>
<text x="282.3" y="441.4" font-size="10.4" font-family="Liberation Sans, sans-serif" font-weight="bold" stroke="#000" stroke-width="0.35" text-anchor="end" >treatment</text>
<rect x="315.55" y="417.50" width="6.5" height="1.6" fill="#000"/>
<rect x="318.00" y="415.05" width="1.6" height="6.5" fill="#000"/>
<rect x="317.10" y="437.50" width="4" height="1.8" fill="#000"/>
<rect x="367.90" y="418.60" width="3.6" height="1.6" fill="#000"/>
<rect x="420.40" y="418.60" width="3.6" height="1.6" fill="#000"/>
<rect x="477.10" y="418.80" width="3.6" height="1.6" fill="#000"/>
<rect x="372.60" y="436.80" width="3.6" height="1.8" fill="#000"/>
<text x="432" y="440.4" font-size="10.4" font-family="Liberation Sans, sans-serif" font-weight="bold" stroke="#000" stroke-width="0.35" text-anchor="middle" >Anti-JE</text>
<text x="491" y="439.4" font-size="10.4" font-family="Liberation Sans, sans-serif" font-weight="bold" stroke="#000" stroke-width="0.35" text-anchor="middle" >Con -Ab</text>
<text x="320.5" y="461" font-size="8.5" font-family="Liberation Sans, sans-serif" text-anchor="middle" >1</text>
<text x="372.7" y="461" font-size="8.5" font-family="Liberation Sans, sans-serif" text-anchor="middle" >2</text>
<text x="424" y="461" font-size="8.5" font-family="Liberation Sans, sans-serif" text-anchor="middle" >3</text>
<text x="477.3" y="461" font-size="8.5" font-family="Liberation Sans, sans-serif" text-anchor="middle" >4</text>
<text transform="translate(252.1,326.9) rotate(-90)" font-size="10.3" font-family="Liberation Sans, sans-serif" font-weight="bold" stroke="#000" stroke-width="0.35" text-anchor="middle">% of increase in the actin</text>
<text transform="translate(264.8,325.2) rotate(-90)" font-size="10.4" font-family="Liberation Sans, sans-serif" font-weight="bold" stroke="#000" stroke-width="0.35" text-anchor="middle">polymerization</text>
</svg>
</body></html>
